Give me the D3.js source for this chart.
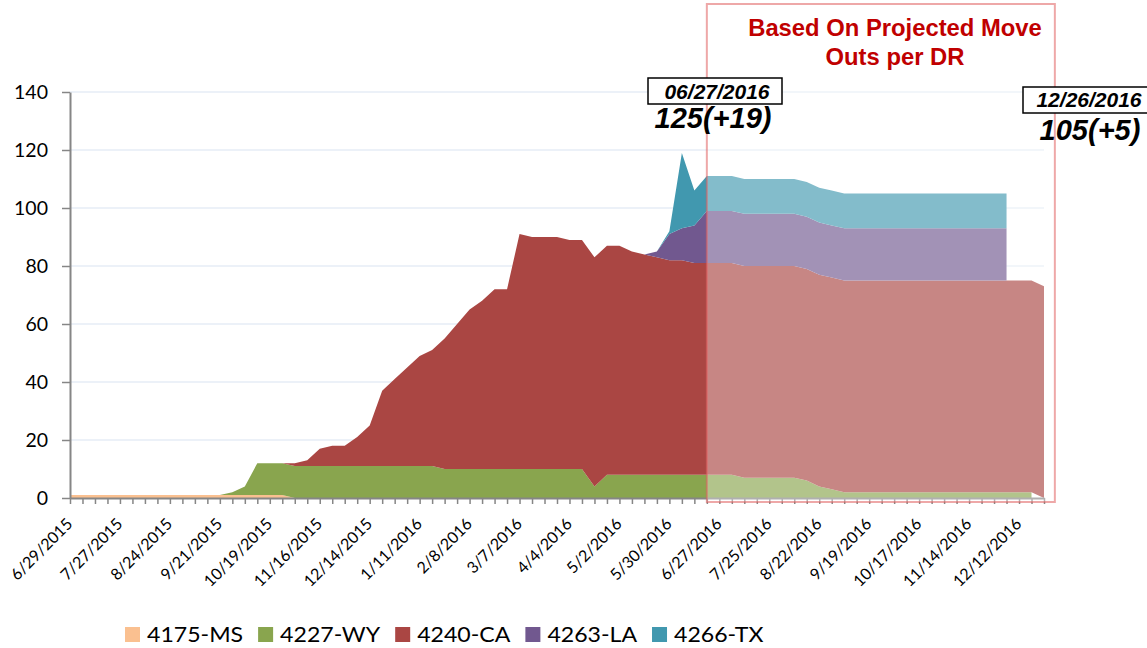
<!DOCTYPE html>
<html lang="en">
<head>
<meta charset="utf-8" />
<title>Move Outs</title>
<style>
  body { margin: 0; background: #fff; }
  svg { display: block; font-family: Lato, "Open Sans", sans-serif; }
</style>
</head>
<body>
<svg id="chart" width="1147" height="648"></svg>
<script src="https://d3js.org/d3.v7.min.js"></script>
<script>
// weekly points, week 0 = 6/29/2015 ... week 78 = 12/26/2016
const seriesNames = ["4175-MS", "4227-WY", "4240-CA", "4263-LA", "4266-TX"];
const seriesColors = ["#fac090", "#89a54e", "#aa4643", "#71588f", "#4198af"];

const tickLabels = ["6/29/2015", "7/27/2015", "8/24/2015", "9/21/2015", "10/19/2015",
  "11/16/2015", "12/14/2015", "1/11/2016", "2/8/2016", "3/7/2016", "4/4/2016",
  "5/2/2016", "5/30/2016", "6/27/2016", "7/25/2016", "8/22/2016", "9/19/2016",
  "10/17/2016", "11/14/2016", "12/12/2016"];

const yTicks = [0, 20, 40, 60, 80, 100, 120, 140];

const ms = [1, 1, 1, 1, 1, 1, 1, 1, 1, 1,
  1, 1, 1, 1, 1, 1, 1, 1, 0, 0,
  0, 0, 0, 0, 0, 0, 0, 0, 0, 0,
  0, 0, 0, 0, 0, 0, 0, 0, 0, 0,
  0, 0, 0, 0, 0, 0, 0, 0, 0, 0,
  0, 0, 0, 0, 0, 0, 0, 0, 0, 0,
  0, 0, 0, 0, 0, 0, 0, 0, 0, 0,
  0, 0, 0, 0, 0, 0, 0, 0, 0];

const wy = [0, 0, 0, 0, 0, 0, 0, 0, 0, 0,
  0, 0, 0, 1, 3, 11, 11, 11, 11, 11,
  11, 11, 11, 11, 11, 11, 11, 11, 11, 11,
  10, 10, 10, 10, 10, 10, 10, 10, 10, 10,
  10, 10, 4, 8, 8, 8, 8, 8, 8, 8,
  8, 8, 8, 8, 7, 7, 7, 7, 7, 6,
  4, 3, 2, 2, 2, 2, 2, 2, 2, 2,
  2, 2, 2, 2, 2, 2, 2, 2, null];

const ca = [0, 0, 0, 0, 0, 0, 0, 0, 0, 0,
  0, 0, 0, 0, 0, 0, 0, 0, 1, 2,
  6, 7, 7, 10, 14, 26, 30, 34, 38, 40,
  45, 50, 55, 58, 62, 62, 81, 80, 80, 80,
  79, 79, 79, 79, 79, 77, 76, 75, 74, 74,
  73, 73, 73, 73, 73, 73, 73, 73, 73, 73,
  73, 73, 73, 73, 73, 73, 73, 73, 73, 73,
  73, 73, 73, 73, 73, 73, 73, 73, 73];

const la = [null, null, null, null, null, null, null, null, null, null,
  null, null, null, null, null, null, null, null, null, null,
  null, null, null, null, null, null, null, null, null, null,
  null, null, null, null, null, null, null, null, null, null,
  null, null, null, null, null, null, 0, 2, 9, 11,
  13, 18, 18, 18, 18, 18, 18, 18, 18, 18,
  18, 18, 18, 18, 18, 18, 18, 18, 18, 18,
  18, 18, 18, 18, 18, 18, null, null, null];

const tx = [null, null, null, null, null, null, null, null, null, null,
  null, null, null, null, null, null, null, null, null, null,
  null, null, null, null, null, null, null, null, null, null,
  null, null, null, null, null, null, null, null, null, null,
  null, null, null, null, null, null, null, 0, 1, 26,
  12, 12, 12, 12, 12, 12, 12, 12, 12, 12,
  12, 12, 12, 12, 12, 12, 12, 12, 12, 12,
  12, 12, 12, 12, 12, 12, null, null, null];

const seriesValues = [ms, wy, ca, la, tx];
const projectedFrom = 51; // week where the projection box starts

const svg = d3.select("#chart");
const margin = { left: 70, right: 103, top: 92, bottom: 150 };
const width = 1147 - margin.left - margin.right;
const height = 648 - margin.top - margin.bottom;

const table = d3.range(ms.length).map((i) => {
  const row = { i: i };
  seriesNames.forEach((n, k) => (row[n] = seriesValues[k][i]));
  return row;
});

const x = d3.scaleLinear().domain([0, ms.length - 1]).range([margin.left, margin.left + width]);
const y = d3.scaleLinear().domain([0, 140]).range([margin.top + height, margin.top]);

// gridlines
svg.append("g")
  .selectAll("line")
  .data(yTicks.filter((d) => d > 0))
  .join("line")
  .attr("x1", x.range()[0])
  .attr("x2", x.range()[1])
  .attr("y1", (d) => y(d))
  .attr("y2", (d) => y(d))
  .attr("stroke", "#d9e3f1")
  .attr("stroke-width", 1.2);

// stacked areas
const stack = d3.stack().keys(seriesNames).value((d, key) => d[key] == null ? 0 : d[key]);
const layers = stack(table);

layers.forEach((layer, k) => {
  const area = d3.area()
    .defined((d) => d.data[layer.key] != null)
    .x((d) => x(d.data.i))
    .y0((d) => y(d[0]))
    .y1((d) => y(d[1]));
  svg.append("path")
    .datum(layer)
    .attr("fill", seriesColors[k])
    .attr("d", area);
});

// axes
const yAxis = svg.append("g")
  .attr("transform", `translate(${margin.left},0)`)
  .call(d3.axisLeft(y).tickValues(yTicks).tickSize(8).tickSizeOuter(0).tickPadding(14));
yAxis.select(".domain").attr("stroke", "#868686").attr("stroke-width", 2);
yAxis.selectAll(".tick line").attr("stroke", "#868686").attr("stroke-width", 1.5);
yAxis.selectAll("text").attr("font-size", 19.5).attr("fill", "#000").attr("font-family", "Lato");

const xAxis = svg.append("g")
  .attr("transform", `translate(0,${y(0)})`)
  .call(
    d3.axisBottom(x)
      .tickValues(d3.range(ms.length))
      .tickSize(6)
      .tickSizeOuter(0)
      .tickFormat((i) => (i % 4 === 0 ? tickLabels[i / 4] : ""))
  );
xAxis.select(".domain").attr("stroke", "#868686").attr("stroke-width", 2);
xAxis.selectAll(".tick line").attr("stroke", "#868686").attr("stroke-width", 1.5);
xAxis.selectAll("text")
  .attr("font-size", 16)
  .attr("font-family", "Lato")
  .attr("fill", "#000")
  .attr("text-anchor", "end")
  .attr("x", 0)
  .attr("y", 0)
  .attr("dy", 0)
  .attr("transform", "translate(3,27) rotate(-45)");

// projection box
const boxLeft = x(projectedFrom);
svg.append("rect")
  .attr("x", boxLeft)
  .attr("y", 4)
  .attr("width", 348)
  .attr("height", 498)
  .attr("fill", "#fff")
  .attr("fill-opacity", 0.35)
  .attr("stroke", "#e06060")
  .attr("stroke-opacity", 0.55)
  .attr("stroke-width", 2);

const note = svg.append("g")
  .attr("font-family", "'Liberation Sans', Arial, sans-serif")
  .attr("font-weight", "bold")
  .attr("font-size", 23.8)
  .attr("fill", "#c00000")
  .attr("text-anchor", "middle");
note.append("text").attr("x", 895).attr("y", 36).text("Based On Projected Move");
note.append("text").attr("x", 895).attr("y", 65).text("Outs per DR");

// date callouts
function callout(cx, boxX, boxY, boxW, dateText, dateBase, valueText, valueBase) {
  const g = svg.append("g")
    .attr("font-family", "'Liberation Sans', Arial, sans-serif")
    .attr("font-weight", "bold")
    .attr("font-style", "italic")
    .attr("fill", "#000");
  g.append("rect")
    .attr("x", boxX).attr("y", boxY)
    .attr("width", boxW).attr("height", 26)
    .attr("fill", "#fff")
    .attr("stroke", "#000")
    .attr("stroke-width", 1.5);
  g.append("text")
    .attr("x", boxX + boxW / 2 + 2).attr("y", dateBase)
    .attr("text-anchor", "middle")
    .attr("font-size", 21)
    .text(dateText);
  g.append("text")
    .attr("x", cx).attr("y", valueBase)
    .attr("text-anchor", "middle")
    .attr("font-size", 29)
    .text(valueText);
}
callout(713, 648, 78, 134, "06/27/2016", 99, "125(+19)", 128);
callout(1090, 1023, 87, 128, "12/26/2016", 107, "105(+5)", 140);

// legend
const legend = svg.append("g").attr("font-family", "Lato").attr("font-size", 21);
let lx = 125;
seriesNames.forEach((n, k) => {
  legend.append("rect")
    .attr("x", lx).attr("y", 627)
    .attr("width", 15).attr("height", 15)
    .attr("fill", seriesColors[k]);
  const t = legend.append("text")
    .attr("transform", `translate(${lx + 22},642) scale(1.1,1)`)
    .attr("fill", "#000")
    .text(n);
  lx += 22 + t.node().getComputedTextLength() * 1.1 + 15;
});
</script>
</body>
</html>
